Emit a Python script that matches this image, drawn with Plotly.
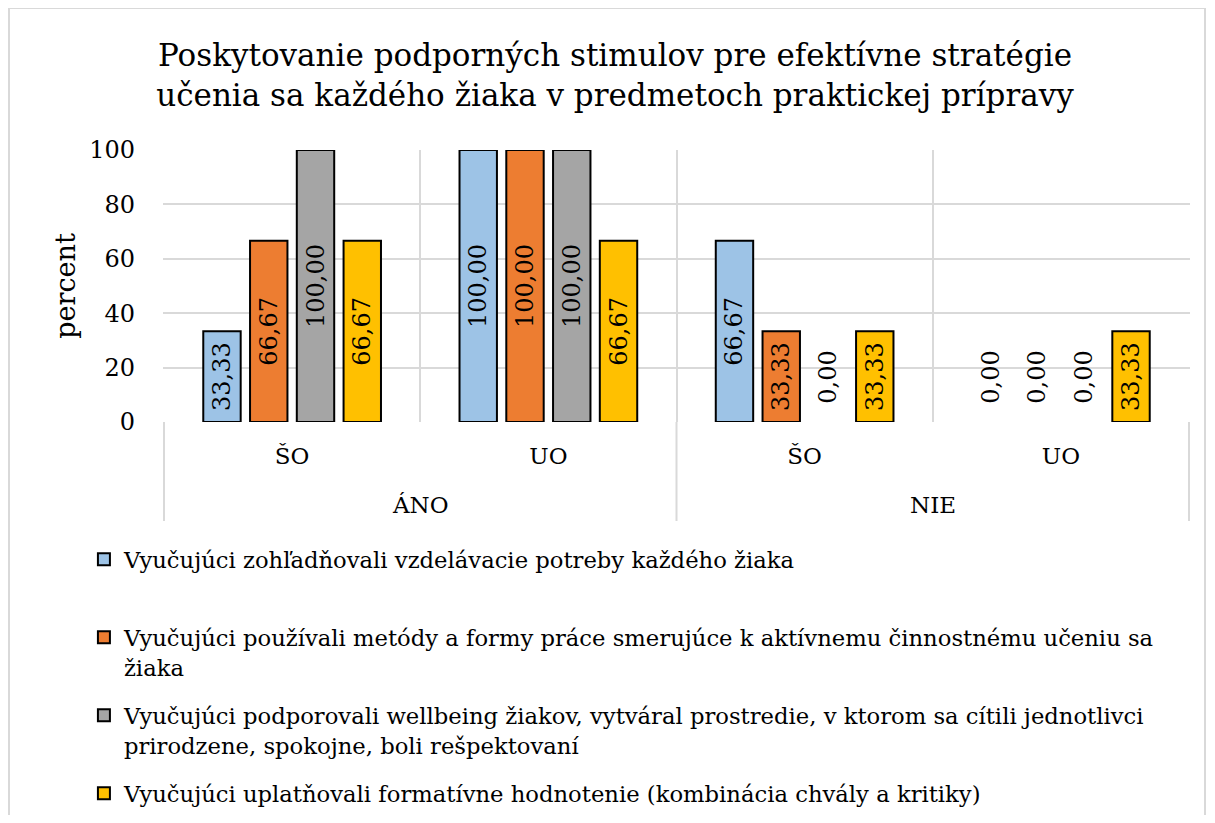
import plotly.graph_objects as go

# ---- data ----
groups = ["ÁNO", "ÁNO", "NIE", "NIE"]
subcats = ["ŠO", "UO", "ŠO", "UO"]
series_names = [
    "Vyučujúci zohľadňovali vzdelávacie potreby každého žiaka<br> ",
    "Vyučujúci používali metódy a formy práce smerujúce k aktívnemu činnostnému učeniu sa<br>žiaka",
    "Vyučujúci podporovali wellbeing žiakov, vytváral prostredie, v ktorom sa cítili jednotlivci<br>prirodzene, spokojne, boli rešpektovaní",
    "Vyučujúci uplatňovali formatívne hodnotenie (kombinácia chvály a kritiky)",
]
vals_blue = [33.33, 100.00, 66.67, 0.00]
vals_orange = [66.67, 100.00, 33.33, 0.00]
vals_gray = [100.00, 100.00, 0.00, 0.00]
vals_yellow = [66.67, 66.67, 33.33, 33.33]
colors = ["#9DC3E6", "#ED7D31", "#A5A5A5", "#FFC000"]
title_text = "Poskytovanie podporných stimulov pre efektívne stratégie<br>učenia sa každého žiaka v predmetoch praktickej prípravy"
y_title = "percent"
y_ticks = [0, 20, 40, 60, 80, 100]

FONT = "DejaVu Serif"
OFF = 8                     # page offset of the plot div (body margin)
W, H = 1215 - 2 * OFF, 823 - 2 * OFF
# desired page pixel positions of the plot area
PL, PR, PT, PB = 163, 1190, 150, 422
L, T = PL - OFF, PT - OFF
R = W - (PR - OFF)
B = H - (PB - OFF)
pw, ph = PR - PL, PB - PT

def px_to_paper_x(px):
    return (px - PL) / pw

def px_to_paper_y(py):
    return (PB - py) / ph

x_keys = [f"{g} {s}" for g, s in zip(groups, subcats)]

fig = go.Figure()
for i, (name, vals) in enumerate(zip(series_names, [vals_blue, vals_orange, vals_gray, vals_yellow])):
    fig.add_trace(go.Bar(
        x=x_keys, y=vals, name=name, legendgroup=f"g{i}",
        marker=dict(color=colors[i],
                    line=dict(color="#000000", width=[2 if v > 0 else 0 for v in vals])),
        texttemplate=["%{y:.2f}" if v > 0 else "\u00a0\u00a0%{y:.2f}" for v in vals],
        textposition=["inside" if v > 0 else "outside" for v in vals],
        insidetextanchor="middle", textangle=-90, constraintext="none",
        insidetextfont=dict(family=FONT, size=24, color="#000000"),
        outsidetextfont=dict(family=FONT, size=24, color="#000000"),
        cliponaxis=False,
    ))

# group labels (ÁNO / NIE) and group dividers below the axis
unique_groups = list(dict.fromkeys(groups))
for g in unique_groups:
    idx = [i for i, gg in enumerate(groups) if gg == g]
    fig.add_annotation(x=sum(idx) / len(idx), xref="x", y=px_to_paper_y(505), yref="paper",
                       text=g, showarrow=False, yanchor="middle",
                       font=dict(family=FONT, size=23, color="#000000"))
bounds = [-0.5] + [i - 0.5 for i in range(1, len(groups)) if groups[i] != groups[i - 1]] + [len(groups) - 0.5]
for bx in bounds:
    fig.add_shape(type="line", xref="x", yref="paper", x0=bx, x1=bx,
                  y0=0, y1=px_to_paper_y(521), line=dict(color="#D9D9D9", width=2))

# outer chart border (decorative frame)
fig.add_shape(type="rect", xref="paper", yref="paper",
              x0=px_to_paper_x(9), x1=px_to_paper_x(1205),
              y0=px_to_paper_y(850), y1=px_to_paper_y(8),
              line=dict(color="#D9D9D9", width=2), fillcolor="rgba(0,0,0,0)", layer="below")

fig.update_layout(
    width=W, height=H,
    template="none",
    separators=", ",
    paper_bgcolor="white", plot_bgcolor="white",
    margin=dict(l=L, r=R, t=T, b=B, pad=0),
    barmode="group", bargap=0.27, bargroupgap=0.2,
    font=dict(family=FONT, size=22, color="#000000"),
    title=dict(text=title_text, x=(615 - OFF) / W, xref="container", xanchor="center",
               y=1 - (66 - OFF) / H, yref="container", yanchor="top",
               font=dict(family=FONT, size=31, color="#000000")),
    xaxis=dict(type="category", tickvals=x_keys, ticktext=subcats,
               showgrid=True, gridcolor="#D9D9D9", gridwidth=2,
               showline=False, tickson="boundaries", ticks="", ticklabelstandoff=18,
               tickfont=dict(family=FONT, size=23)),
    yaxis=dict(range=[0, 100], tickvals=y_ticks, showgrid=True, gridcolor="#D9D9D9", gridwidth=2,
               zeroline=False, showline=False, ticks="", ticklabelstandoff=27,
               tickfont=dict(family=FONT, size=24),
               title=dict(text=y_title, font=dict(family=FONT, size=27), standoff=5)),
    legend=dict(orientation="v", x=-0.077, xref="paper", xanchor="left",
                y=1 - (538 - OFF) / H, yref="container", yanchor="top",
                valign="top", tracegroupgap=16, traceorder="grouped",
                font=dict(family=FONT, size=22.7, color="#000000"),
                bgcolor="rgba(0,0,0,0)", itemwidth=30),
    showlegend=True,
)

fig.write_html("out.html")
